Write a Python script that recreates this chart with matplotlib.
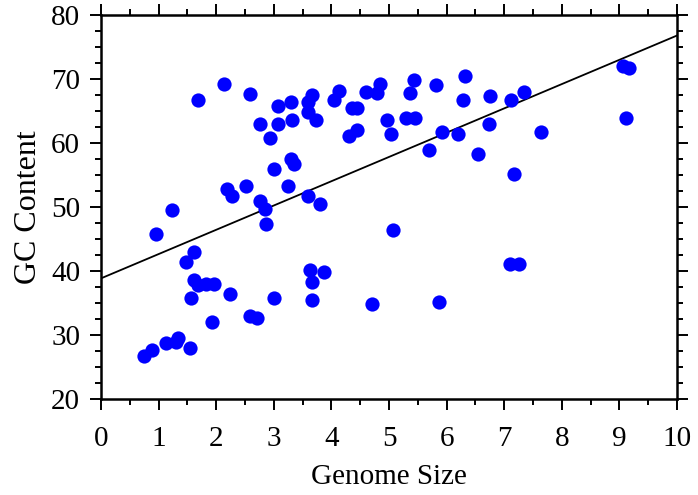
import matplotlib
matplotlib.use("Agg")
import matplotlib.pyplot as plt
from matplotlib.ticker import MultipleLocator
import numpy as np

# genome size vs GC content
genome_size = [1.69, 2.14, 2.59, 3.07, 3.29, 3.67, 3.60, 3.60, 3.74, 2.76,
               3.07, 3.32, 2.94, 4.04, 4.13, 4.35, 4.45, 4.30, 4.45, 4.60,
               4.79, 4.85, 4.96, 5.03, 3.29, 3.35, 3.01, 2.18, 2.28, 2.52,
               3.25, 3.60, 3.81, 2.76, 2.84, 1.23, 0.96, 2.86, 1.62, 1.48,
               1.62, 1.69, 1.83, 1.97, 1.57, 2.24, 1.93, 0.75, 0.89, 1.13,
               1.34, 1.31, 1.55, 2.59, 2.70, 3.01, 3.63, 3.67, 3.67, 3.87,
               4.71, 5.07, 5.44, 5.37, 5.82, 6.32, 6.28, 6.76, 7.11, 7.35,
               5.29, 5.45, 5.92, 6.20, 5.69, 6.54, 6.73, 7.17, 7.63, 9.07,
               9.17, 9.12, 7.10, 7.25, 5.86]
gc_content = [66.7, 69.2, 67.7, 65.8, 66.4, 67.5, 66.5, 64.9, 63.6, 63.0,
              63.0, 63.6, 60.8, 66.7, 68.1, 65.5, 65.5, 61.1, 62.0, 68.0,
              67.9, 69.2, 63.6, 61.5, 57.6, 56.7, 55.9, 52.8, 51.7, 53.3,
              53.3, 51.7, 50.5, 50.9, 49.8, 49.6, 45.8, 47.4, 43.0, 41.4,
              38.6, 37.9, 38.0, 38.0, 35.8, 36.4, 32.1, 26.8, 27.7, 28.8,
              29.6, 28.9, 28.0, 33.1, 32.7, 35.8, 40.2, 38.3, 35.5, 39.9,
              34.9, 46.4, 69.8, 67.9, 69.0, 70.5, 66.7, 67.3, 66.7, 68.0,
              63.9, 63.9, 61.7, 61.5, 58.9, 58.3, 63.0, 55.2, 61.8, 72.1,
              71.8, 64.0, 41.1, 41.1, 35.2]

# fitted line as drawn in the reference
fit_intercept = 38.9
fit_slope = 3.79

plt.rcParams['font.family'] = ['Liberation Serif', 'DejaVu Serif']

fig = plt.figure(figsize=(6.98, 4.95), dpi=100)
ax = fig.add_axes([0.1447, 0.193, 0.8253, 0.7767])

xs = np.array([0, 10])
ax.plot(xs, fit_intercept + fit_slope * xs, color='black', linewidth=1.3, zorder=2)
ax.scatter(genome_size, gc_content, s=105, color='#0000ff', linewidths=0, zorder=3)

ax.set_xlim(0, 10)
ax.set_ylim(20, 80)
ax.xaxis.set_major_locator(MultipleLocator(1))
ax.xaxis.set_minor_locator(MultipleLocator(0.5))
ax.yaxis.set_major_locator(MultipleLocator(10))
ax.yaxis.set_minor_locator(MultipleLocator(2.5))

for s in ax.spines.values():
    s.set_linewidth(1.8)
ax.tick_params(which='both', direction='out', top=True, right=True, width=1.4,
               labelsize=21)
ax.tick_params(axis='x', pad=11)
ax.tick_params(axis='y', pad=7)
ax.tick_params(which='major', length=8)
ax.tick_params(which='minor', length=4)

ax.set_xlabel("Genome Size", fontsize=21, labelpad=9)
ax.set_ylabel("GC Content", fontsize=23, labelpad=6)

fig.savefig("out.png", dpi=100)
